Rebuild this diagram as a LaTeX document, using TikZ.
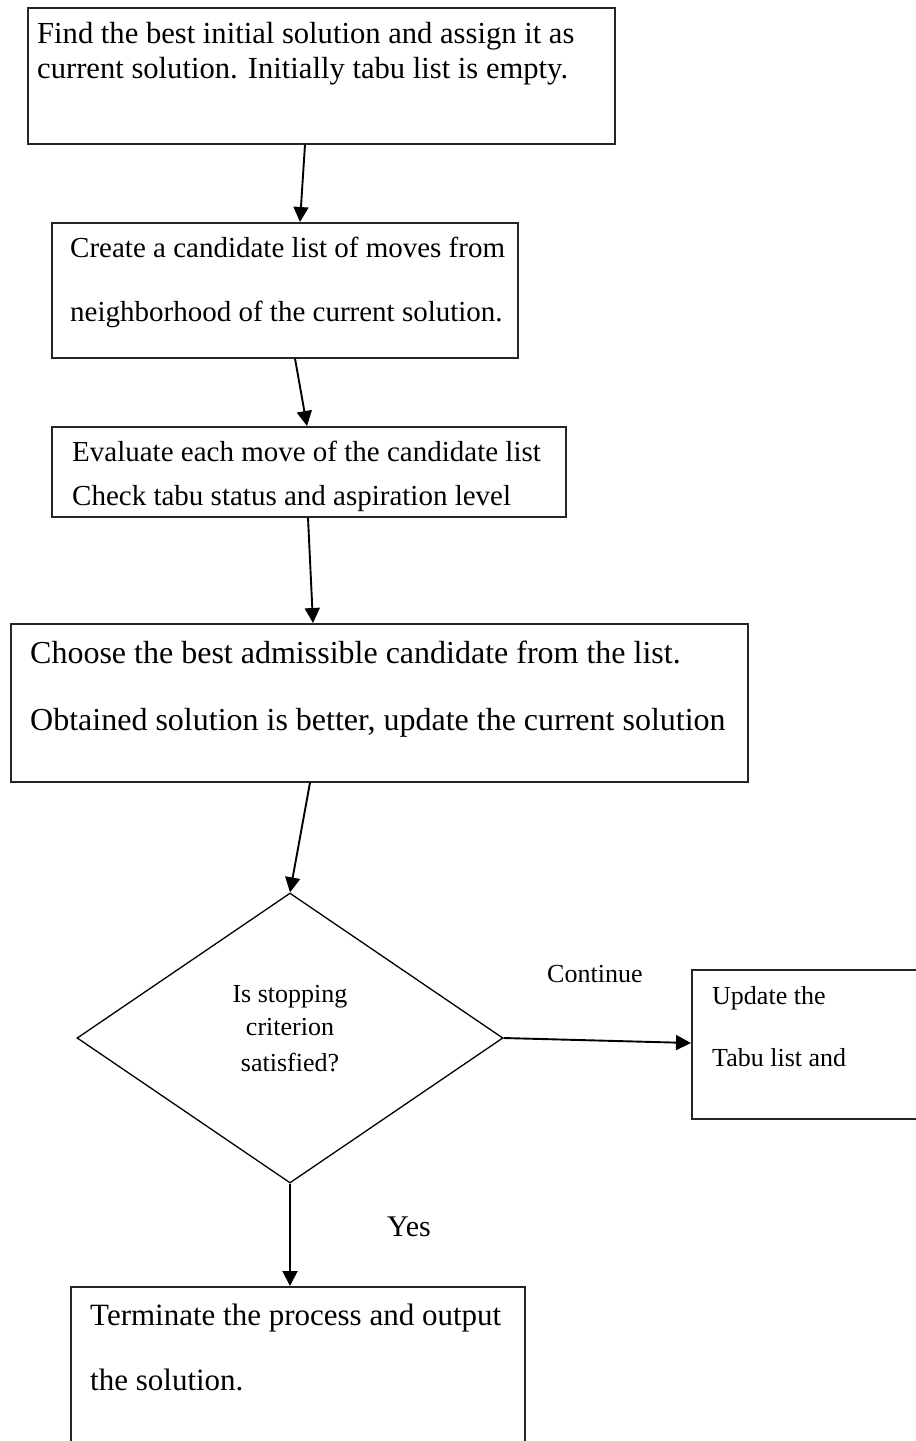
\documentclass[tikz,border=0pt]{standalone}
\usepackage{fontspec}
\setmainfont{Liberation Serif}
\usetikzlibrary{arrows.meta,calc,shapes.geometric}
\begin{document}
\begin{tikzpicture}[x=1pt,y=-1pt,
  box/.style={draw=black!85,line width=1.6pt,rectangle,anchor=north west,inner sep=0pt},
  arr/.style={line width=1.9pt,-{Triangle[length=15pt,width=15pt]}},
  txt/.style={inner sep=0pt,anchor=base west},
  ctxt/.style={inner sep=0pt,anchor=base},
  fA/.style={font=\fontsize{30.6}{36}\selectfont},
  fB/.style={font=\fontsize{29}{35}\selectfont},
  fC/.style={font=\fontsize{32}{38}\selectfont},
  fD/.style={font=\fontsize{26}{31}\selectfont},
  fE/.style={font=\fontsize{31}{37}\selectfont},
  fY/.style={font=\fontsize{30}{36}\selectfont}]
\useasboundingbox (0,0) rectangle (916,1441);
\clip (0,0) rectangle (916,1441);

% process boxes
\node[box,minimum width=587pt,minimum height=136pt] (b1) at (27,7) {};
\node[box,minimum width=466pt,minimum height=135pt] (b2) at (51,222) {};
\node[box,minimum width=514pt,minimum height=90pt]  (b3) at (51,426) {};
\node[box,minimum width=737pt,minimum height=158pt] (b4) at (10,623) {};
\node[draw=black,line width=1.3pt,diamond,inner sep=0pt,
      minimum width=426pt,minimum height=290pt] (dec) at (290,1038) {};
\node[box,minimum width=240pt,minimum height=149pt] (upd) at (691,969) {};
\node[box,minimum width=454pt,minimum height=200pt] (fin) at (70,1286) {};

% box texts
\node[txt,fA] (t1a) at (37,43) {Find the best initial solution and assign it as};
\node[txt,fA] (t1b) at (37,78) {current solution. Initially tabu list is empty.};
\node[txt,fB] (t2a) at (70,257) {Create a candidate list of moves from};
\node[txt,fB] (t2b) at (70,321) {neighborhood of the current solution.};
\node[txt,fB] (t3a) at (72,461) {Evaluate each move of the candidate list};
\node[txt,fB] (t3b) at (72,505) {Check tabu status and aspiration level};
\node[txt,fC] (t4a) at (30,663) {Choose the best admissible candidate from the list.};
\node[txt,fC] (t4b) at (30,730) {Obtained solution is better, update the current solution};
\node[ctxt,fD] (d1) at (290,1002) {Is stopping};
\node[ctxt,fD] (d2) at (290,1035) {criterion};
\node[ctxt,fD] (d3) at (290,1071) {satisfied?};
\node[txt,fD] (u1) at (712,1004) {Update the};
\node[txt,fD] (u2) at (712,1066) {Tabu list and};
\node[txt,fE] (f1) at (90,1325) {Terminate the process and output};
\node[txt,fE] (f2) at (90,1390) {the solution.};

% edge labels
\node[txt,fD] (lc) at (547,982) {Continue};
\node[txt,fY] (ly) at (387,1236) {Yes};

% connectors
\draw[arr] ($(b1.south west)+(278,0)$) -- ($(b2.north west)+(249,0)$);
\draw[arr] ($(b2.south west)+(244,0)$) -- ($(b3.north west)+(256,0)$);
\draw[arr] ($(b3.south west)+(257,0)$) -- ($(b4.north west)+(303,0)$);
\draw[arr] ($(b4.south west)+(300,0)$) -- (dec.north);
\draw[arr] (dec.east) -- ($(upd.north west)+(0,74)$);
\draw[arr] (dec.south) -- ($(fin.north west)+(220,0)$);
\end{tikzpicture}
\end{document}
